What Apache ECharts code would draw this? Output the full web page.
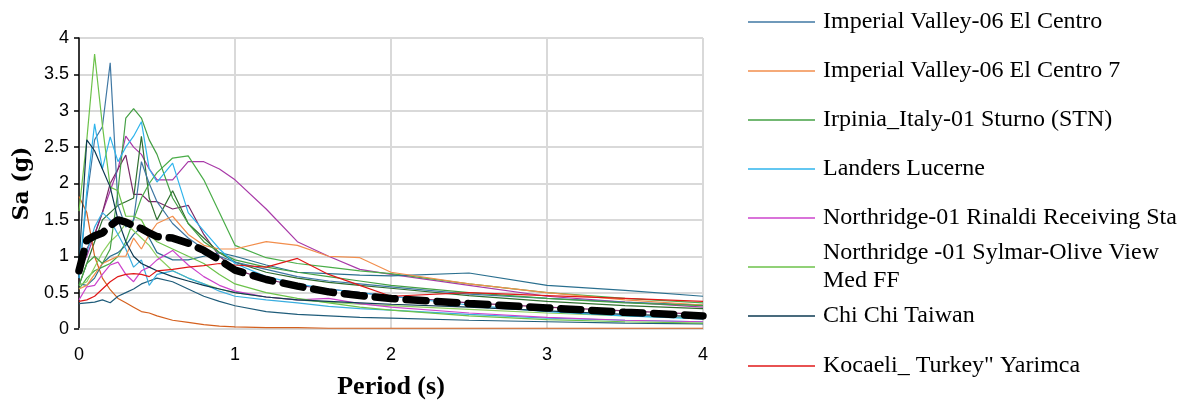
<!DOCTYPE html>
<html>
<head>
<meta charset="utf-8">
<script src="https://cdn.jsdelivr.net/npm/echarts@6/dist/echarts.min.js"></script>
<style>
html, body { margin: 0; padding: 0; background: #fff; }
#chart { width: 1185px; height: 408px; }
</style>
</head>
<body>
<div id="chart"></div>
<script>
// periods (s)
var periods = [0, 0.05, 0.1, 0.15, 0.2, 0.25, 0.3, 0.35, 0.4, 0.45, 0.5, 0.6, 0.7, 0.8, 0.9, 1.0, 1.2, 1.4, 1.6, 1.8, 2.0, 2.5, 3.0, 3.5, 4.0];

// spectral accelerations Sa (g)
var elCentro   = [0.7, 1.8, 2.6, 2.78, 3.66, 1.7, 1.4, 1.5, 2.3, 2.0, 1.75, 1.45, 1.25, 1.1, 1.0, 0.92, 0.82, 0.72, 0.66, 0.62, 0.58, 0.48, 0.42, 0.37, 0.33];
var elCentro7  = [0.55, 0.6, 0.75, 0.9, 0.95, 1.0, 1.0, 1.25, 1.1, 1.3, 1.45, 1.55, 1.3, 1.15, 1.1, 1.1, 1.2, 1.15, 1.0, 0.98, 0.78, 0.62, 0.5, 0.4, 0.33];
var irpinia    = [0.6, 0.9, 1.0, 0.9, 1.1, 1.9, 2.9, 3.03, 2.9, 2.6, 2.4, 1.8, 1.45, 1.2, 1.05, 0.95, 0.85, 0.78, 0.72, 0.66, 0.6, 0.5, 0.42, 0.36, 0.32];
var landers    = [0.7, 1.9, 2.82, 2.2, 2.64, 2.3, 2.5, 2.65, 2.85, 2.2, 2.02, 2.28, 1.6, 1.35, 1.1, 0.9, 0.72, 0.62, 0.55, 0.5, 0.45, 0.33, 0.24, 0.18, 0.14];
var rinaldi    = [0.4, 0.58, 0.6, 0.75, 0.88, 0.92, 0.75, 0.65, 0.8, 0.85, 0.95, 1.08, 0.88, 0.72, 0.6, 0.52, 0.44, 0.4, 0.42, 0.35, 0.3, 0.22, 0.16, 0.12, 0.1];
var sylmar     = [1.62, 2.6, 3.78, 2.8, 1.95, 1.9, 1.55, 1.55, 1.5, 1.3, 1.2, 1.1, 1.0, 0.9, 0.75, 0.62, 0.5, 0.42, 0.36, 0.3, 0.26, 0.18, 0.13, 0.1, 0.08];
var chiChi     = [0.9, 2.6, 2.45, 2.2, 1.95, 1.5, 1.2, 1.0, 0.9, 0.85, 0.8, 0.72, 0.66, 0.6, 0.55, 0.5, 0.44, 0.4, 0.38, 0.36, 0.34, 0.3, 0.25, 0.2, 0.17];
var kocaeli    = [0.38, 0.4, 0.45, 0.55, 0.65, 0.72, 0.75, 0.76, 0.75, 0.72, 0.8, 0.82, 0.85, 0.87, 0.9, 0.88, 0.85, 0.97, 0.75, 0.6, 0.45, 0.5, 0.46, 0.42, 0.38];
var recPurple  = [0.8, 1.0, 1.3, 1.6, 1.9, 2.2, 2.65, 2.5, 2.4, 2.2, 2.05, 2.05, 2.3, 2.3, 2.2, 2.05, 1.65, 1.2, 1.0, 0.82, 0.75, 0.6, 0.45, 0.37, 0.3];
var recPlum    = [0.9, 1.1, 1.3, 1.6, 2.0, 2.2, 2.39, 1.85, 1.85, 1.75, 1.75, 1.65, 1.7, 1.3, 1.0, 0.82, 0.68, 0.6, 0.55, 0.5, 0.45, 0.36, 0.3, 0.25, 0.2];
var recForest  = [0.6, 0.9, 1.2, 1.5, 1.6, 1.7, 1.75, 1.8, 2.65, 1.8, 1.5, 1.9, 1.45, 1.25, 1.05, 0.92, 0.78, 0.7, 0.64, 0.6, 0.56, 0.46, 0.38, 0.32, 0.28];
var recRust    = [1.82, 1.6, 1.0, 0.7, 0.54, 0.42, 0.36, 0.3, 0.24, 0.22, 0.18, 0.12, 0.09, 0.06, 0.04, 0.03, 0.02, 0.02, 0.01, 0.01, 0.01, 0.01, 0.01, 0.01, 0.01];
var recGreen   = [0.55, 0.7, 0.8, 0.85, 0.9, 1.0, 1.2, 1.5, 1.8, 2.0, 2.15, 2.35, 2.38, 2.05, 1.6, 1.15, 0.98, 0.9, 0.85, 0.8, 0.76, 0.62, 0.5, 0.42, 0.36];
var recTealLow = [0.35, 0.36, 0.37, 0.4, 0.36, 0.45, 0.5, 0.55, 0.62, 0.66, 0.7, 0.65, 0.55, 0.45, 0.38, 0.32, 0.24, 0.2, 0.18, 0.16, 0.15, 0.12, 0.1, 0.08, 0.07];
var recTeal    = [0.62, 0.6, 0.7, 0.9, 1.0, 1.05, 1.15, 1.3, 1.4, 1.25, 1.05, 0.95, 0.95, 1.0, 1.05, 1.0, 0.88, 0.78, 0.76, 0.74, 0.73, 0.77, 0.6, 0.53, 0.45];
var recLime    = [0.6, 0.65, 0.85, 1.05, 1.2, 1.3, 1.45, 1.35, 1.25, 1.15, 1.0, 0.8, 0.7, 0.62, 0.55, 0.5, 0.44, 0.4, 0.37, 0.34, 0.32, 0.27, 0.22, 0.18, 0.15];
var recSky     = [0.8, 1.05, 1.4, 1.6, 1.5, 1.3, 1.1, 0.85, 0.95, 0.6, 0.75, 0.8, 0.7, 0.62, 0.52, 0.45, 0.4, 0.36, 0.31, 0.28, 0.26, 0.2, 0.15, 0.12, 0.1];
var meanSa     = [0.8, 1.22, 1.28, 1.32, 1.42, 1.5, 1.47, 1.42, 1.38, 1.32, 1.27, 1.25, 1.18, 1.08, 0.95, 0.81, 0.68, 0.59, 0.51, 0.46, 0.42, 0.35, 0.29, 0.23, 0.18];

var legendNames = [
  'Imperial Valley-06 El Centro',
  'Imperial Valley-06 El Centro 7',
  'Irpinia_Italy-01 Sturno (STN)',
  'Landers Lucerne',
  'Northridge-01 Rinaldi Receiving Sta',
  'Northridge -01 Sylmar-Olive View Med FF',
  'Chi Chi Taiwan',
  'Kocaeli_ Turkey" Yarimca'
];

var records = [
  { name: 'rec9',  data: recPurple,  color: '#a83aa8' },
  { name: 'rec10', data: recPlum,    color: '#7a2a68' },
  { name: 'rec11', data: recForest,  color: '#2f6e2f' },
  { name: 'rec12', data: recRust,    color: '#d4601e' },
  { name: 'rec13', data: recGreen,   color: '#4aad48' },
  { name: 'rec14', data: recTealLow, color: '#1f5c7a' },
  { name: 'rec15', data: recTeal,    color: '#2a6f8f' },
  { name: 'rec16', data: recLime,    color: '#8ccf60' },
  { name: 'rec17', data: recSky,     color: '#3aaee0' },
  { name: legendNames[0], data: elCentro,  color: '#3f77a3' },
  { name: legendNames[1], data: elCentro7, color: '#f28e4c' },
  { name: legendNames[2], data: irpinia,   color: '#45a045' },
  { name: legendNames[3], data: landers,   color: '#2fb4ec' },
  { name: legendNames[4], data: rinaldi,   color: '#cc44cc' },
  { name: legendNames[5], data: sylmar,    color: '#6cc24a' },
  { name: legendNames[6], data: chiChi,    color: '#0d3a52' },
  { name: legendNames[7], data: kocaeli,   color: '#e01818' }
];

function pairs(vals) {
  return periods.map(function (p, i) { return [p, vals[i]]; });
}

var series = records.map(function (r) {
  return {
    name: r.name,
    type: 'line',
    symbol: 'none',
    silent: true,
    data: pairs(r.data),
    lineStyle: { color: r.color, width: 1.2 },
    itemStyle: { color: r.color }
  };
});
series.push({
  name: 'Mean',
  type: 'line',
  symbol: 'none',
  z: 5,
  data: pairs(meanSa),
  lineStyle: { color: '#000', width: 7.5, type: [20, 11], cap: 'round' }
});

// legend item centres (px)
var legendCenters = [22, 71, 120, 169, 218, 267, 316, 366];
var legends = legendNames.map(function (n, i) {
  var wrap = (i === 5);
  return {
    data: [n],
    orient: 'vertical',
    left: 748,
    top: legendCenters[i] - (wrap ? 42 : 14),
    padding: 0,
    icon: 'rect',
    itemWidth: 67,
    itemHeight: 1.6,
    selectedMode: false,
    formatter: wrap ? function () { return 'Northridge -01 Sylmar-Olive View\nMed FF'; } : '{name}',
    textStyle: {
      fontFamily: 'Liberation Serif',
      fontSize: 24,
      color: '#000',
      lineHeight: 28,
      padding: wrap ? [28, 0, 0, 3] : [0, 0, 0, 3]
    }
  };
});

var chart = echarts.init(document.getElementById('chart'));
chart.setOption({
  animation: false,
  legend: legends,
  grid: { left: 79, right: 482, top: 38, bottom: 79 },
  xAxis: {
    type: 'value',
    min: 0,
    max: 4,
    interval: 1,
    name: 'Period (s)',
    nameLocation: 'middle',
    nameGap: 45,
    nameTextStyle: { fontFamily: 'Liberation Serif', fontWeight: 'bold', fontSize: 26, color: '#000' },
    axisLine: { show: true, lineStyle: { color: '#d9d9d9', width: 2 } },
    axisTick: { show: false },
    axisLabel: { fontFamily: 'Liberation Sans', fontSize: 18, color: '#000', margin: 17 },
    splitLine: { show: true, lineStyle: { color: '#d9d9d9', width: 2 } }
  },
  yAxis: {
    type: 'value',
    min: 0,
    max: 4,
    interval: 0.5,
    name: 'Sa (g)',
    nameLocation: 'middle',
    nameGap: 36,
    nameTextStyle: { fontFamily: 'DejaVu Serif', fontWeight: 'bold', fontSize: 22, color: '#000' },
    axisLine: { show: true, lineStyle: { color: '#000', width: 1.5 } },
    axisTick: { show: true, length: 5, lineStyle: { color: '#000', width: 1.5 } },
    axisLabel: { fontFamily: 'Liberation Sans', fontSize: 18, color: '#000', margin: 10 },
    splitLine: { show: true, lineStyle: { color: '#d9d9d9', width: 2 } }
  },
  series: series
});
</script>
</body>
</html>
